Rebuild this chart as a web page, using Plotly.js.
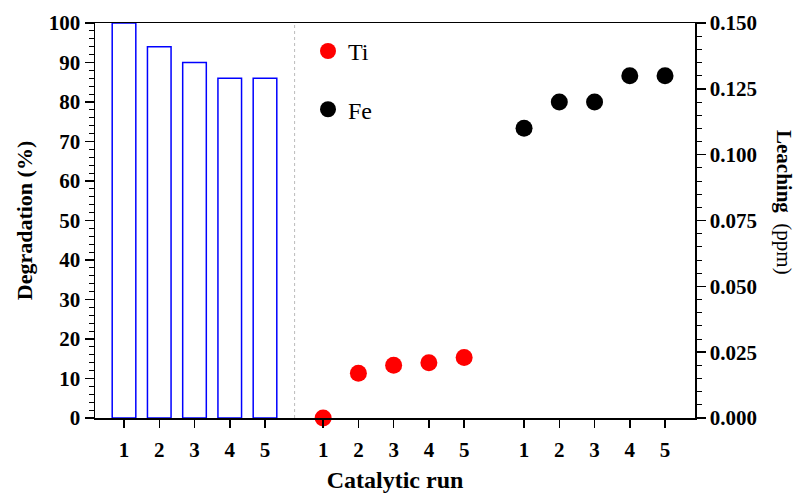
<!DOCTYPE html>
<html>
<head>
<meta charset="utf-8">
<script src="https://cdn.plot.ly/plotly-3.0.1.min.js"></script>
<style>html,body{margin:0;padding:0;background:#fff;}#chart{width:796px;height:493px;}</style>
</head>
<body>
<div id="chart"></div>
<script>
// ---- data ----
const runs = [1, 2, 3, 4, 5];
const runLabels = ['1', '2', '3', '4', '5'];
const degradation = [100, 94, 90, 86, 86];      // %
const leachingTi = [0.000, 0.017, 0.020, 0.021, 0.023]; // ppm
const leachingFe = [0.110, 0.120, 0.120, 0.130, 0.130]; // ppm

// ---- layout of the three groups along the x axis ----
const offBars = 0, offTi = 5.65, offFe = 11.35, sepX = 5.84;
const xBars = runs.map(r => r + offBars);
const xTi = runs.map(r => r + offTi);
const xFe = runs.map(r => r + offFe);

const serif = "'Liberation Serif', 'Times New Roman', Times, serif";

const traces = [
  {
    type: 'bar', x: xBars, y: degradation, width: 0.67,
    marker: {color: 'rgba(255,255,255,0)', line: {color: '#0000ff', width: 1.5}},
    showlegend: false, yaxis: 'y', name: 'Degradation'
  },
  {
    type: 'scatter', mode: 'markers', x: xTi, y: leachingTi, yaxis: 'y2', name: 'Ti',
    marker: {color: '#ff0000', size: 17}, cliponaxis: false, legendgroup: 'ti'
  },
  {
    type: 'scatter', mode: 'markers', x: xFe, y: leachingFe, yaxis: 'y2', name: 'Fe',
    marker: {color: '#000000', size: 17}, cliponaxis: false, legendgroup: 'fe'
  }
];

const tickvals = [].concat(xBars, xTi, xFe);
const ticktext = [].concat(runLabels, runLabels, runLabels);

const layout = {
  width: 796, height: 493,
  margin: {l: 95, r: 101, t: 23, b: 75},
  paper_bgcolor: '#fff', plot_bgcolor: '#fff',
  font: {family: serif, color: '#000'},
  showlegend: true,
  legend: {
    x: 0.355, y: 0.985, xanchor: 'left', yanchor: 'top',
    font: {family: serif, size: 24, color: '#000'},
    bgcolor: 'rgba(0,0,0,0)', tracegroupgap: 24, itemsizing: 'trace'
  },
  xaxis: {
    range: [0.177, 17.2], showgrid: false, zeroline: false,
    showline: true, linecolor: '#000', linewidth: 1.5, mirror: true,
    tickmode: 'array', tickvals: tickvals, ticktext: ticktext,
    ticks: 'outside', ticklen: 8, tickwidth: 1.5, tickcolor: '#000',
    ticklabelstandoff: 4,
    tickfont: {family: serif, size: 21, weight: 'bold'},
    title: {text: '<b>Catalytic run</b>', font: {family: serif, size: 24}, standoff: 15}
  },
  yaxis: {
    range: [0, 100], showgrid: false, zeroline: false,
    showline: true, linecolor: '#000', linewidth: 1.5,
    tickmode: 'linear', tick0: 0, dtick: 10,
    ticks: 'outside', ticklen: 9, tickwidth: 1.5, tickcolor: '#000',
    minor: {dtick: 2, ticks: 'outside', ticklen: 5, tickwidth: 1, tickcolor: '#000', showgrid: false},
    tickfont: {family: serif, size: 21, weight: 'bold'},
    title: {text: '<b>Degradation (%)</b>', font: {family: serif, size: 22}, standoff: 10}
  },
  yaxis2: {
    overlaying: 'y', side: 'right', range: [0, 0.15], showgrid: false, zeroline: false,
    showline: true, linecolor: '#000', linewidth: 1.5,
    tickmode: 'linear', tick0: 0, dtick: 0.025, tickformat: '.3f',
    ticks: 'outside', ticklen: 9, tickwidth: 1.5, tickcolor: '#000',
    minor: {dtick: 0.005, ticks: 'outside', ticklen: 5, tickwidth: 1, tickcolor: '#000', showgrid: false},
    tickfont: {family: serif, size: 21, weight: 'bold'}
  },
  shapes: [{
    type: 'line', xref: 'x', yref: 'paper', x0: sepX, x1: sepX, y0: 0, y1: 1,
    line: {color: '#bbbbbb', width: 1, dash: 'dot'}, layer: 'below'
  }],
  annotations: [{
    xref: 'paper', yref: 'paper', x: 1.1495, y: 0.545, textangle: 90,
    showarrow: false, xanchor: 'center', yanchor: 'middle',
    text: '<b>Leaching</b>  (ppm)', font: {family: serif, size: 21, color: '#000'}
  }]
};

Plotly.newPlot('chart', traces, layout, {displayModeBar: false, staticPlot: true});
</script>
</body>
</html>
